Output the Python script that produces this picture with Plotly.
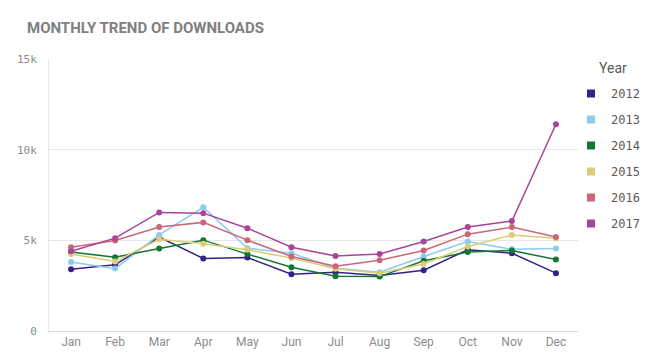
import plotly.graph_objects as go

months = ["Jan", "Feb", "Mar", "Apr", "May", "Jun", "Jul", "Aug", "Sep", "Oct", "Nov", "Dec"]
years = ["2012", "2013", "2014", "2015", "2016", "2017"]

d2012 = [3400, 3650, 5180, 4000, 4050, 3130, 3240, 3060, 3350, 4480, 4290, 3190]
d2013 = [3800, 3440, 5300, 6830, 4570, 4290, 3460, 3240, 4110, 4940, 4510, 4550]
d2014 = [4350, 4070, 4550, 5010, 4240, 3520, 3020, 3000, 3870, 4350, 4440, 3940]
d2015 = [4250, 3830, 5060, 4810, 4480, 4020, 3430, 3190, 3700, 4660, 5290, 5120]
d2016 = [4620, 4990, 5730, 5990, 5010, 4110, 3570, 3900, 4440, 5340, 5730, 5180]
d2017 = [4400, 5120, 6540, 6500, 5670, 4620, 4130, 4250, 4940, 5730, 6060, 11400]

series = [d2012, d2013, d2014, d2015, d2016, d2017]
colors = ["#332288", "#88CCEE", "#117733", "#DDCC77", "#CC6677", "#AA4499"]

ytick_vals = [0, 5000, 10000, 15000]
ytick_text = ["0", "5k", "10k", "15k"]

fig = go.Figure()
for yr, vals, c in zip(years, series, colors):
    fig.add_trace(go.Scatter(
        x=months, y=vals, mode="lines+markers", name=yr,
        line=dict(color=c, width=1.5), marker=dict(color=c, size=6),
        showlegend=False,
    ))
for i, (yr, c) in enumerate(zip(years, colors)):
    fig.add_trace(go.Scatter(
        x=[None], y=[None], mode="markers", name=yr, legendgroup=f"g{i}",
        marker=dict(color=c, size=8, symbol="square"),
        showlegend=True,
    ))

fig.update_layout(
    width=647, height=360,
    margin=dict(l=49, r=69, t=59, b=29, autoexpand=False),
    paper_bgcolor="white", plot_bgcolor="white",
    title=dict(text="<b>MONTHLY TREND OF DOWNLOADS</b>", x=27/647, xanchor="left",
               y=1 - 28/360, yanchor="middle",
               font=dict(family="Roboto", size=15, color="#808080")),
    xaxis=dict(
        type="category", range=[-0.5, 11.5], showgrid=False,
        showline=True, linecolor="#d9d9d9", linewidth=1, ticks="",
        tickfont=dict(family="Roboto", size=12, color="#8c8c8c"),
        fixedrange=True,
    ),
    yaxis=dict(
        range=[0, 15000], tickvals=ytick_vals, ticktext=ytick_text,
        showgrid=True, gridcolor="#e6e6e6", gridwidth=1, zeroline=False,
        showline=True, linecolor="#e6e6e6", linewidth=1, ticks="",
        ticklabelstandoff=9,
        tickfont=dict(family="DejaVu Sans Mono", size=11, color="#8c8c8c"),
        fixedrange=True,
    ),
    legend=dict(
        x=(571 - 49) / 529, xanchor="left", y=(331 - 79) / 272, yanchor="top",
        font=dict(family="DejaVu Sans Mono", size=12, color="#595959"),
        tracegroupgap=7, itemwidth=30, bgcolor="rgba(0,0,0,0)",
    ),
    annotations=[dict(
        text="Year", xref="paper", yref="paper", x=(597 - 49) / 529, y=(331 - 68) / 272,
        xanchor="left", yanchor="middle", showarrow=False,
        font=dict(family="Roboto", size=14, color="#595959"),
    )],
)

fig.write_html("out.html", config={"displayModeBar": False},
               post_script="document.body.style.margin='0';")
